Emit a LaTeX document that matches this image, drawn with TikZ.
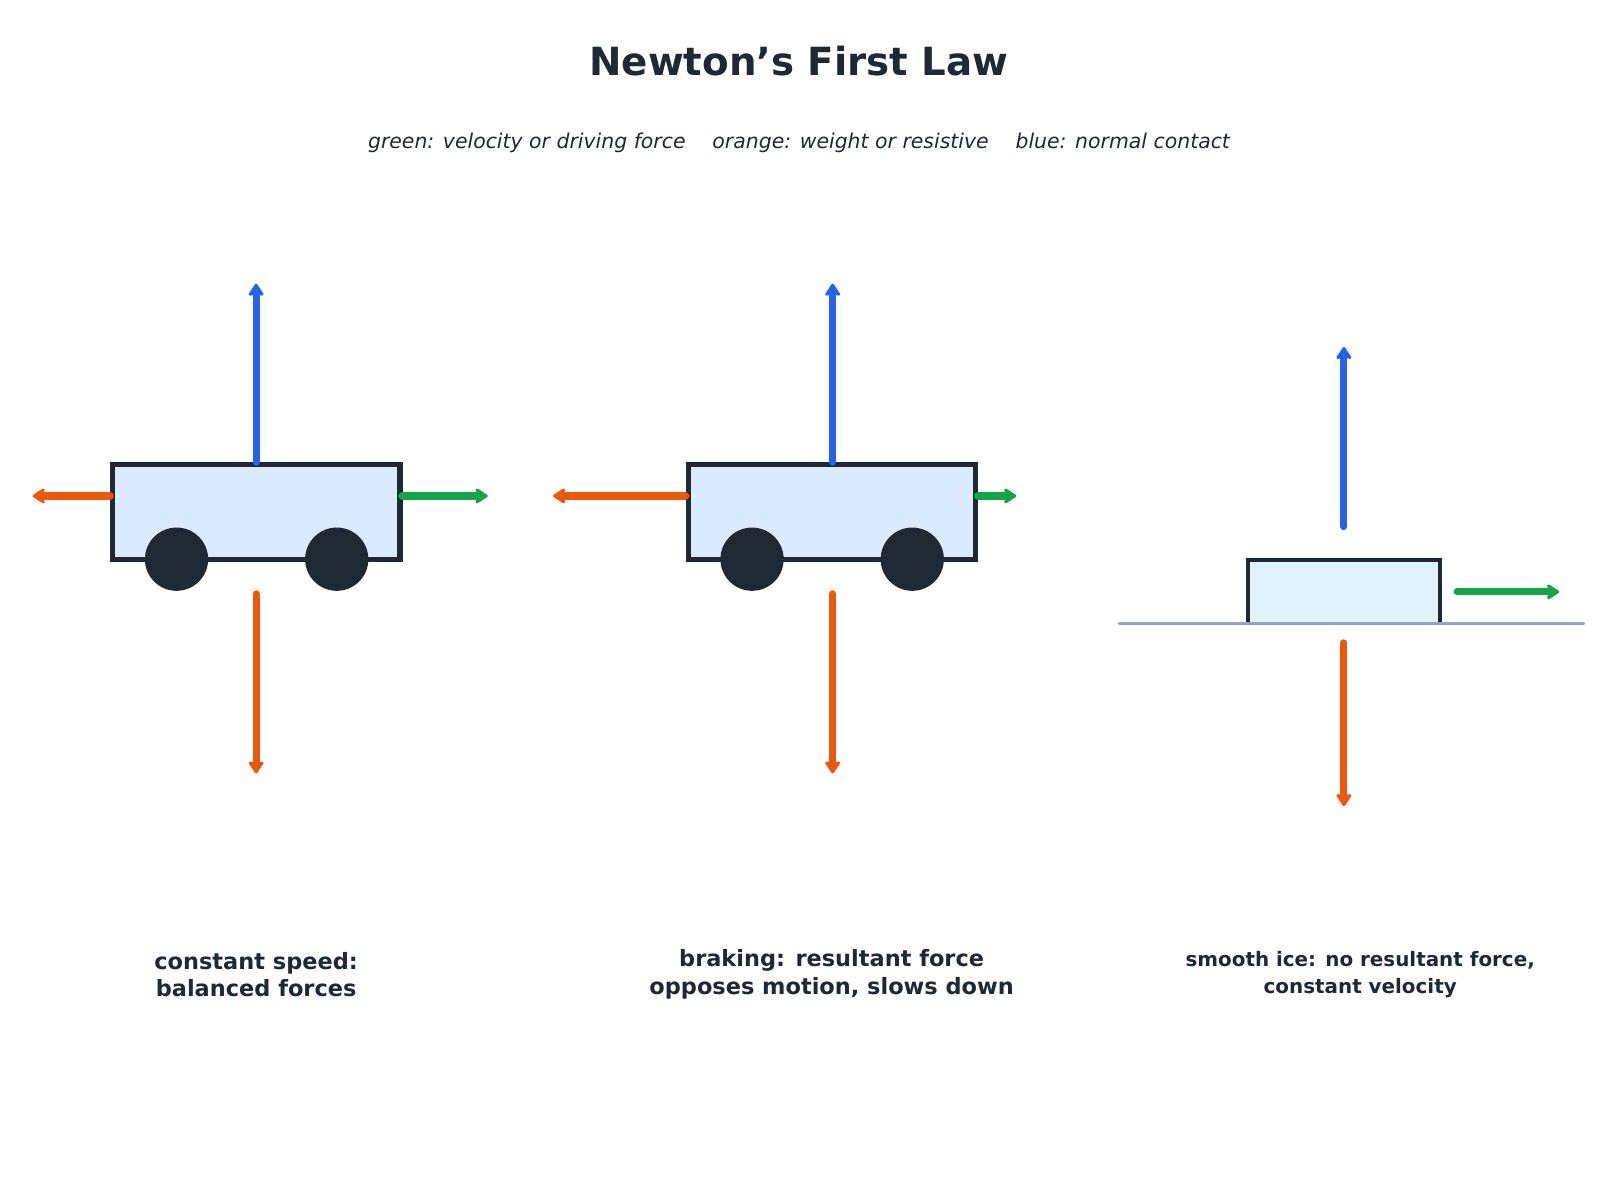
\documentclass[tikz,border=0pt]{standalone}
\usepackage{fontspec}
\setmainfont{DejaVu Sans}
\usetikzlibrary{arrows.meta,positioning}
\definecolor{ink}{HTML}{1F2933}
\definecolor{fblue}{HTML}{2563EB}
\definecolor{forange}{HTML}{EA580C}
\definecolor{fgreen}{HTML}{16A34A}
\definecolor{cartfill}{HTML}{DBEAFE}
\definecolor{icefill}{HTML}{E0F2FE}
\definecolor{ground}{HTML}{94A3B8}
\begin{document}
\begin{tikzpicture}[
    x=1pt, y=-1pt,
    force/.style={line width=7pt, line cap=round, -{Stealth[length=14pt,width=18pt,inset=3pt,round]}},
    body/.style={draw=ink, line width=5pt, fill=cartfill},
    wheel/.style={circle, fill=ink, minimum size=62pt, inner sep=0pt},
    caption/.style={text=ink, font=\bfseries\fontsize{22}{27}\selectfont, align=center}]
    \useasboundingbox (0,0) rectangle (1568,1176);

    % Titel
    \node[text=ink, font=\bfseries\fontsize{38}{44}\selectfont] (title) at (783,60) {Newton's First Law};
    \node[text=ink, font=\itshape\fontsize{20}{24}\selectfont] (legend) at (783,140)
        {green: velocity or driving force\quad\ orange: weight or resistive\quad\ blue: normal contact};

    % Wagen 1
    \draw[body] (110,455) rectangle (392,548);
    \node[wheel] (wa) at (173,548) {};
    \node[wheel] (wb) at (330,548) {};
    \draw[force, fblue] (251,453) -- (251,278);
    \draw[force, forange] (108,486) -- (32,486);
    \draw[force, fgreen] (394,486) -- (478,486);
    \draw[force, forange] (251,582) -- (251,758);
    \node[caption] (capa) at (251,955) {constant speed:\\balanced forces};

    % Wagen 2
    \draw[body] (675,455) rectangle (956,548);
    \node[wheel] (wc) at (737,548) {};
    \node[wheel] (wd) at (894,548) {};
    \draw[force, fblue] (816,453) -- (816,278);
    \draw[force, forange] (672,486) -- (542,486);
    \draw[force, fgreen] (958,486) -- (996,486);
    \draw[force, forange] (816,582) -- (816,758);
    \node[caption] (capb) at (815,955) {braking: resultant force\\opposes motion, slows down};

    % Eis
    \draw[draw=ink, line width=3.5pt, fill=icefill] (1223,610) -- (1223,549) -- (1411,549) -- (1411,610);
    \draw[ground, line width=3.5pt, line cap=round] (1097,611) -- (1552,611);
    \draw[force, fblue] (1317,516) -- (1317,340);
    \draw[force, fgreen] (1428,580) -- (1528,580);
    \draw[force, forange] (1317,630) -- (1317,790);
    \node[caption, font=\bfseries\fontsize{19.5}{26}\selectfont] (capc) at (1333,955) {smooth ice: no resultant force,\\constant velocity};
\end{tikzpicture}
\end{document}
